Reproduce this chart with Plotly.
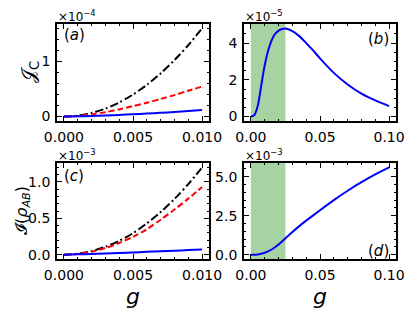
import plotly.graph_objects as go

# ---------------- data ----------------
g_small = [0.0, 0.001, 0.002, 0.003, 0.004, 0.005, 0.006, 0.007, 0.008, 0.009, 0.010]
# panel (a): J_C  (x1e-4)
a_black = [0.0, 0.016, 0.064, 0.144, 0.256, 0.40, 0.576, 0.784, 1.024, 1.296, 1.60]
a_red = [0.0, 0.01, 0.04, 0.08, 0.13, 0.19, 0.25, 0.32, 0.39, 0.47, 0.545]
a_blue = [0.0, 0.005, 0.012, 0.02, 0.03, 0.042, 0.055, 0.068, 0.083, 0.10, 0.12]
# panel (c): I(rho_AB)  (x1e-3)
c_black = [0.0, 0.012, 0.048, 0.108, 0.19, 0.295, 0.43, 0.585, 0.765, 0.97, 1.20]
c_red = [0.0, 0.01, 0.04, 0.09, 0.16, 0.245, 0.35, 0.48, 0.62, 0.77, 0.93]
c_blue = [0.0, 0.004, 0.009, 0.015, 0.022, 0.03, 0.038, 0.046, 0.054, 0.063, 0.072]

# panel (b) (x1e-5)
g_b = [0.0, 0.0025, 0.005, 0.0075, 0.01, 0.0125, 0.015, 0.0175, 0.02, 0.0225, 0.025,
       0.03, 0.035, 0.04, 0.045, 0.05, 0.06, 0.07, 0.08, 0.09, 0.10]
b_blue = [0.0, 0.08, 0.6, 1.7, 2.8, 3.6, 4.15, 4.5, 4.68, 4.77, 4.80,
          4.65, 4.38, 4.0, 3.6, 3.17, 2.38, 1.75, 1.25, 0.88, 0.57]
# panel (d) (x1e-3)
g_d = [0.0, 0.005, 0.01, 0.015, 0.02, 0.025, 0.03, 0.035, 0.04, 0.05, 0.06, 0.07, 0.08, 0.09, 0.10]
d_blue = [0.0, 0.01, 0.12, 0.33, 0.65, 1.05, 1.45, 1.83, 2.18, 2.85, 3.5, 4.1, 4.65, 5.15, 5.6]

shade = [0.0, 0.025]

# ---------------- figure ----------------
W, H = 415, 311
fig = go.Figure()

LW = 2
def add(x, y, color, dash, xa, ya):
    fig.add_trace(go.Scatter(x=x, y=y, mode="lines", xaxis=xa, yaxis=ya,
                             line=dict(color=color, width=LW, dash=dash, shape="spline",
                                       smoothing=0.8),
                             showlegend=False, hoverinfo="skip"))

DD = "8px,3px,2px,3px"
DS = "6px,3px"
add(g_small, a_black, "black", DD, "x", "y")
add(g_small, a_red, "red", DS, "x", "y")
add(g_small, a_blue, "blue", "solid", "x", "y")
add(g_b, b_blue, "blue", "solid", "x2", "y2")
add(g_small, c_black, "black", DD, "x3", "y3")
add(g_small, c_red, "red", DS, "x3", "y3")
add(g_small, c_blue, "blue", "solid", "x3", "y3")
add(g_d, d_blue, "blue", "solid", "x4", "y4")

for xr, yr in (("x2", "y2"), ("x4", "y4")):
    fig.add_shape(type="rect", xref=xr, yref=yr + " domain", x0=shade[0], x1=shade[1],
                  y0=0, y1=1, fillcolor="rgb(166,211,162)", line_width=0, layer="below")

def px_x(p):
    return p / W
def px_y(p):
    return 1 - p / H

FONT = dict(family="DejaVu Sans", size=14, color="black")
def axis(domain, rng, dtick, mdtick, fmt, anchor):
    return dict(domain=domain, range=rng, dtick=dtick, tick0=0, tickformat=fmt,
                ticks="inside", ticklen=5, tickwidth=1.2, tickcolor="black",
                showline=True, linewidth=1.8, linecolor="black", mirror="allticks",
                showgrid=False, zeroline=False, tickfont=FONT, anchor=anchor,
                automargin=False, ticklabelstandoff=2,
                minor=dict(dtick=mdtick, tick0=0, ticks="inside", ticklen=2.5,
                           tickwidth=1, tickcolor="black", showgrid=False))

xL = [px_x(57), px_x(209)]
xR = [px_x(244), px_x(396)]
yT = [px_y(121), px_y(24)]
yB = [px_y(259), px_y(163)]

fig.update_layout(
    width=W, height=H, margin=dict(l=0, r=0, t=0, b=0, autoexpand=False),
    paper_bgcolor="white", plot_bgcolor="white",
    xaxis=axis(xL, [-0.0005, 0.0105], 0.005, 0.001, ".3f", "y"),
    yaxis=axis(yT, [-0.08, 1.68], 1, 0.2, "d", "x"),
    xaxis2=axis(xR, [-0.005, 0.105], 0.05, 0.01, ".2f", "y2"),
    yaxis2=axis(yT, [-0.24, 5.04], 2, 0.5, "d", "x2"),
    xaxis3=axis(xL, [-0.0005, 0.0105], 0.005, 0.001, ".3f", "y3"),
    yaxis3=axis(yB, [-0.06, 1.26], 0.5, 0.1, ".1f", "x3"),
    xaxis4=axis(xR, [-0.005, 0.105], 0.05, 0.01, ".2f", "y4"),
    yaxis4=axis(yB, [-0.28, 5.88], 2.5, 0.5, ".1f", "x4"),
)

def ann(text, x, y, size=14, xanchor="center", yanchor="middle", angle=0):
    fig.add_annotation(text=text, x=px_x(x), y=px_y(y), xref="paper", yref="paper",
                       showarrow=False, xanchor=xanchor, yanchor=yanchor, textangle=angle,
                       font=dict(family="DejaVu Sans", size=size, color="black"))

# exponent labels
ann("×10<sup>−4</sup>", 56, 16, 12, xanchor="left")
ann("×10<sup>−5</sup>", 243, 16, 12, xanchor="left")
ann("×10<sup>−3</sup>", 56, 155, 12, xanchor="left")
ann("×10<sup>−3</sup>", 243, 155, 12, xanchor="left")
# panel letters
ann("(<i>a</i>)", 62, 35, 15, xanchor="left")
ann("(<i>b</i>)", 391, 39, 15, xanchor="right")
ann("(<i>c</i>)", 62, 176, 15, xanchor="left")
ann("(<i>d</i>)", 391, 251, 15, xanchor="right")
# axis titles
ann("<i>g</i>", 133, 296, 22)
ann("<i>g</i>", 320, 296, 22)
ann("𝒥<sub>C</sub>", 29, 72, 19, angle=-90)
ann("𝓘(<i>ρ</i><sub><i>AB</i></sub>)", 22, 211, 16, angle=-90)

fig.write_html("out.html", config={"displayModeBar": False},
               post_script="document.body.style.margin='0';document.body.style.overflow='hidden';")
